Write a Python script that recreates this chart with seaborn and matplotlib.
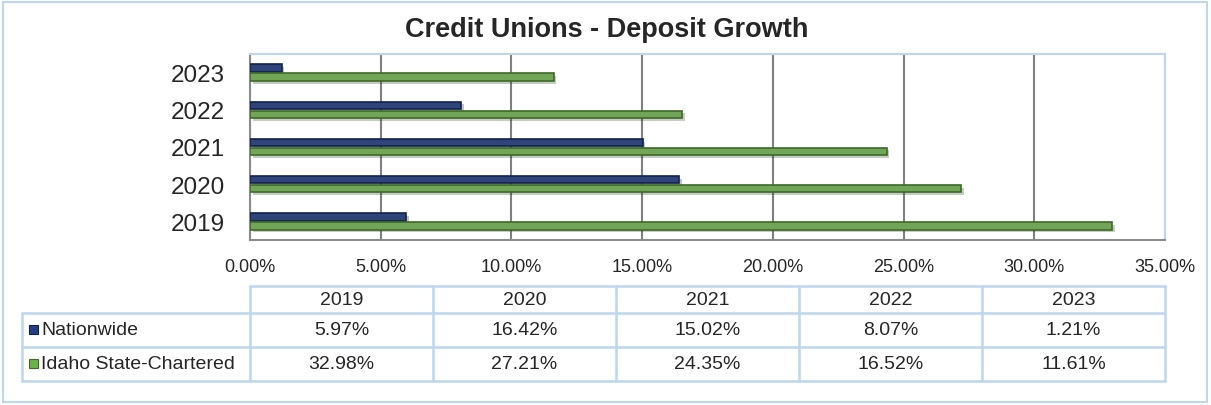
import numpy as np
import pandas as pd
import matplotlib
matplotlib.use("Agg")
import matplotlib.pyplot as plt
import matplotlib.patheffects as pe
from matplotlib.patches import Rectangle
import seaborn as sns

# --- data ---
years = ['2019', '2020', '2021', '2022', '2023']
series = ['Nationwide', 'Idaho State-Chartered']
nationwide = [5.97, 16.42, 15.02, 8.07, 1.21]
idaho = [32.98, 27.21, 24.35, 16.52, 11.61]
x_ticks = [0, 5, 10, 15, 20, 25, 30, 35]

colors = {'Nationwide': '#223f86', 'Idaho State-Chartered': '#6fb24a'}
edges = {'Nationwide': '#13224d', 'Idaho State-Chartered': '#3d6a27'}
grid_blue = '#bdd7ee'

df = pd.DataFrame({
    'Year': years * 2,
    'Series': [series[0]] * 5 + [series[1]] * 5,
    'Growth': nationwide + idaho,
})

sns.set_theme(style='white')
plt.rcParams['font.family'] = ['Liberation Sans', 'DejaVu Sans']

W, H = 1211, 406
fig = plt.figure(figsize=(W / 100, H / 100), dpi=100)

# pixel helper -> figure fraction
def px(x0, y0, x1, y1):
    return [x0 / W, 1 - y1 / H, (x1 - x0) / W, (y1 - y0) / H]

# background layer for table + frame
bg = fig.add_axes([0, 0, 1, 1])
bg.set_xlim(0, W)
bg.set_ylim(H, 0)
bg.axis('off')
bg.add_patch(Rectangle((3, 3), W - 7, H - 6, fill=False, ec=grid_blue, lw=1.5))

# --- bars ---
ax = fig.add_axes(px(250, 55, 1165, 241))
order = years[::-1]
sns.barplot(data=df, y='Year', x='Growth', hue='Series', order=order,
            hue_order=series, orient='h', width=0.48, gap=0.16, palette=colors,
            ax=ax, legend=False, zorder=3)
for i, bar in enumerate(ax.patches):
    name = series[0] if i < 5 else series[1]
    bar.set_edgecolor(edges[name])
    bar.set_linewidth(1.2)
    bar.set_path_effects([pe.SimplePatchShadow(offset=(2, -2), alpha=0.25),
                          pe.Normal()])

ax.set_xlim(0, 35)
ax.set_xticks(x_ticks)
ax.set_xticklabels([f'{v:.2f}%' for v in x_ticks], fontsize=13)
ax.tick_params(axis='x', pad=13, length=0)
ax.tick_params(axis='y', labelsize=17.5, pad=18, length=0)
ax.set_xlabel('')
ax.set_ylabel('')
ax.xaxis.grid(True, color='#7f7f7f', lw=1.5, zorder=0)
ax.set_axisbelow(True)
for s in ['left', 'bottom']:
    ax.spines[s].set_color('#8c8c8c')
    ax.spines[s].set_linewidth(1.5)
for s in ['top', 'right']:
    ax.spines[s].set_color(grid_blue)
    ax.spines[s].set_linewidth(1.5)

fig.text(607 / W, 1 - 30 / H, 'Credit Unions - Deposit Growth',
         ha='center', va='center', fontsize=19.5, fontweight='bold')

# --- data table ---
col_x = [250 + i * 183 for i in range(6)]
row_y = [287, 314, 348, 382]
lab_x = 22
lw = 1.8
fs = 14
bg.plot([col_x[0], col_x[-1]], [row_y[0], row_y[0]], color=grid_blue, lw=lw)
for y in row_y[1:]:
    bg.plot([lab_x, col_x[-1]], [y, y], color=grid_blue, lw=lw)
for x in col_x:
    bg.plot([x, x], [row_y[0], row_y[-1]], color=grid_blue, lw=lw)
bg.plot([lab_x, lab_x], [row_y[1], row_y[-1]], color=grid_blue, lw=lw)

for j, yr in enumerate(years):
    cx = (col_x[j] + col_x[j + 1]) / 2
    bg.text(cx, (row_y[0] + row_y[1]) / 2, yr, ha='center', va='center', fontsize=fs)
    bg.text(cx, (row_y[1] + row_y[2]) / 2, f'{nationwide[j]:.2f}%',
            ha='center', va='center', fontsize=fs)
    bg.text(cx, (row_y[2] + row_y[3]) / 2, f'{idaho[j]:.2f}%',
            ha='center', va='center', fontsize=fs)

for k, name in enumerate(series):
    yc = (row_y[k + 1] + row_y[k + 2]) / 2
    bg.add_patch(Rectangle((29, yc - 5), 9, 9, fc=colors[name], ec=edges[name], lw=0.8))
    bg.text(41, yc, name, ha='left', va='center', fontsize=fs)

fig.savefig('out.png', dpi=100)
